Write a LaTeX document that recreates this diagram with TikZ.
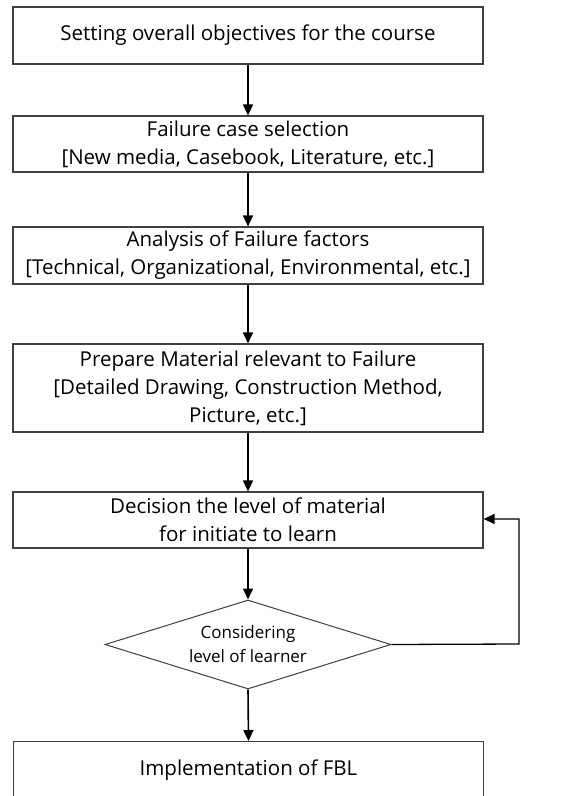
\documentclass[tikz,border=0pt]{standalone}
\usepackage{fontspec}
\setmainfont{Open Sans}
\usetikzlibrary{arrows.meta,shapes.geometric}
\begin{document}
\begin{tikzpicture}[x=1pt,y=-1pt,
  stepbox/.style={draw=black!75,line width=1.2pt,fill=white,align=center,
    minimum width=470pt,inner sep=0pt,font=\fontsize{20.5}{28}\selectfont},
  flow/.style={-{Triangle[length=11pt,width=10pt]},line width=1.6pt,black},
  decide/.style={draw=black!75,line width=1pt,diamond,aspect=3.2,inner sep=0pt,
    minimum width=286pt,minimum height=89pt,align=center,
    font=\fontsize{17}{24}\selectfont}]
\useasboundingbox (0,0) rectangle (584,796);
\clip (0,0) rectangle (584,796);
\fill[white] (0,0) rectangle (584,796);
\node[stepbox,minimum height=57pt] (s1) at (248,35.5) {Setting overall objectives for the course};
\node[stepbox,minimum height=56pt] (s2) at (248,144) {Failure case selection\\{[}New media, Casebook, Literature, etc.{]}};
\node[stepbox,minimum height=57pt] (s3) at (248,255.5) {Analysis of Failure factors\\{[}Technical, Organizational, Environmental, etc.{]}};
\node[stepbox,minimum height=88pt] (s4) at (248,388) {Prepare Material relevant to Failure\\{[}Detailed Drawing, Construction Method,\\Picture, etc.{]}};
\node[stepbox,minimum height=56pt] (s5) at (248,520) {Decision the level of material\\for initiate to learn};
\node[decide] (d) at (248,644.5) {Considering\\level of learner};
\node[stepbox,minimum height=110pt,anchor=north] (s6) at (248.5,741) {};
\node[font=\fontsize{20.5}{28}\selectfont] (t6) at (248.5,770) {Implementation of FBL};
\coordinate (fbR) at (519,644);
\coordinate (fbT) at (519,519);
\draw[flow] (s1.south) -- (s2.north);
\draw[flow] (s2.south) -- (s3.north);
\draw[flow] (s3.south) -- (s4.north);
\draw[flow] (s4.south) -- (s5.north);
\draw[flow] (s5.south) -- (d.north);
\draw[flow] (d.south) -- (s6.north);
\draw[flow,line width=1.3pt] (d.east) -- (fbR) -- (fbT) -- (s5.east |- fbT);
\end{tikzpicture}
\end{document}
